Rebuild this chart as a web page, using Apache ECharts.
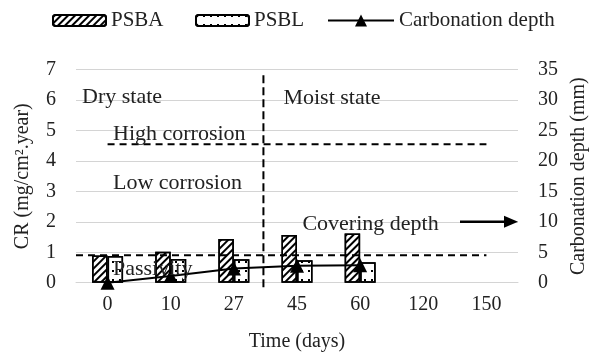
<!DOCTYPE html>
<html><head><meta charset="utf-8">
<script src="https://cdn.jsdelivr.net/npm/echarts@6/dist/echarts.min.js"></script>
<style>html,body{margin:0;padding:0;background:#fff}#c{width:606px;height:358px}</style>
</head><body><div id="c"></div>
<script>
const categories = ['0', '10', '27', '45', '60', '120', '150'];
const psba = [0.89, 1.02, 1.44, 1.57, 1.62, null, null];
const psbl = [0.88, 0.78, 0.77, 0.74, 0.67, null, null];
const carbonation = [0, 1.1, 2.35, 2.8, 2.85, null, null];
const highCorrosionLimit = 4.55;
const passivityLimit = 0.9;
const coveringDepth = 10;

const FONT = 'Liberation Serif';
const TXT = '#222';
const chart = echarts.init(document.getElementById('c'), null, {renderer: 'canvas'});

const hatch = {symbol: 'rect', dashArrayX: [1, 0], dashArrayY: [1.5, 2.8], rotation: -Math.PI / 4, color: '#000'};
const dots = {symbol: 'rect', symbolSize: 1, dashArrayX: [1.4, 5], dashArrayY: [1.4, 7], color: '#000'};

const legendBase = {top: 5, itemHeight: 11, textStyle: {fontFamily: FONT, fontSize: 21, color: TXT}, itemGap: 6, selectedMode: false};

chart.setOption({
  animation: false,
  backgroundColor: '#fff',
  legend: [
    Object.assign({}, legendBase, {data: ['PSBA'], left: 47, itemWidth: 53}),
    Object.assign({}, legendBase, {data: ['PSBL'], left: 190, itemWidth: 53}),
    Object.assign({}, legendBase, {data: ['Carbonation depth'], left: 322, itemWidth: 66, itemHeight: 15})
  ],
  grid: {left: 76, right: 88, top: 69.7, bottom: 75.3},
  xAxis: {
    type: 'category', data: categories,
    axisLine: {lineStyle: {color: '#d4d4d4', width: 1}},
    axisTick: {show: false},
    axisLabel: {fontFamily: FONT, fontSize: 20, color: TXT, margin: 12},
    name: 'Time (days)', nameLocation: 'middle', nameGap: 49,
    nameTextStyle: {fontFamily: FONT, fontSize: 20, color: TXT}
  },
  yAxis: [
    {
      type: 'value', min: 0, max: 7, interval: 1,
      splitLine: {lineStyle: {color: '#d4d4d4', width: 1}},
      axisLabel: {fontFamily: FONT, fontSize: 20, color: TXT, margin: 20},
      name: 'CR (mg/cm².year)', nameLocation: 'middle', nameRotate: 90, nameGap: 43,
      nameTextStyle: {fontFamily: FONT, fontSize: 20, color: TXT}
    },
    {
      type: 'value', min: 0, max: 35, interval: 5, position: 'right',
      splitLine: {show: false},
      axisLabel: {fontFamily: FONT, fontSize: 20, color: TXT, margin: 20},
      name: 'Carbonation depth (mm)', nameLocation: 'middle', nameRotate: 90, nameGap: 50,
      nameTextStyle: {fontFamily: FONT, fontSize: 20, color: TXT}
    }
  ],
  series: [
    {name: 'PSBA', type: 'bar', data: psba, barWidth: 15.5, barGap: '0%',
     itemStyle: {color: '#fff', borderColor: '#000', borderWidth: 1.5, decal: hatch}},
    {name: 'PSBL', type: 'bar', data: psbl, barWidth: 15.5, barGap: '0%',
     itemStyle: {color: '#fff', borderColor: '#000', borderWidth: 1.5, decal: dots}},
    {name: 'Carbonation depth', type: 'line', yAxisIndex: 1, data: carbonation,
     symbol: 'triangle', symbolSize: 14, connectNulls: false,
     lineStyle: {color: '#000', width: 2}, itemStyle: {color: '#000'}}
  ]
});

function drawAnnotations() {
  const px = c => chart.convertToPixel({xAxisIndex: 0}, c);
  const py = v => chart.convertToPixel({yAxisIndex: 0}, v);
  const py2 = v => chart.convertToPixel({yAxisIndex: 1}, v);
  const gridLeft = 76, gridRight = 606 - 88;
  const xStart = px('0'), xEnd = px('150');
  const xSplit = (px('27') + px('45')) / 2 - 2;
  const yHigh = py(highCorrosionLimit), yPass = py(passivityLimit);
  const yCov = py2(coveringDepth);
  const dash = {stroke: '#000', lineWidth: 2, lineDash: [7, 5]};
  const txt = (text, x, y) => ({type: 'text', x: x, y: y, z: 100,
    style: {text: text, font: '22px "' + FONT + '"', fill: TXT, verticalAlign: 'middle'}});
  chart.setOption({graphic: [
    {type: 'line', z: 50, shape: {x1: xStart, y1: yHigh, x2: xEnd, y2: yHigh}, style: dash},
    {type: 'line', z: 50, shape: {x1: gridLeft, y1: yPass, x2: xEnd, y2: yPass}, style: dash},
    {type: 'line', z: 50, shape: {x1: xSplit, y1: py(6.82), x2: xSplit, y2: py(-0.15)}, style: {stroke: '#000', lineWidth: 2, lineDash: [8, 4]}},
    {type: 'line', z: 50, shape: {x1: gridRight - 58, y1: yCov, x2: gridRight - 12, y2: yCov}, style: {stroke: '#000', lineWidth: 2.5}},
    {type: 'polygon', z: 50, shape: {points: [[gridRight - 14, yCov - 6], [gridRight, yCov], [gridRight - 14, yCov + 6]]}, style: {fill: '#000'}},
    txt('Dry state', gridLeft + 6, py(6) - 3),
    txt('Moist state', xSplit + 20, py(6) - 2),
    txt('High corrosion', gridLeft + 37, py(5) + 3.5),
    txt('Low corrosion', gridLeft + 37, py(3.3) + 0.7),
    txt('Covering depth', xSplit + 39, yCov + 2),
    txt('Passivity', gridLeft + 37, py(0.5) + 2)
  ]});
}
drawAnnotations();
</script>
</body></html>
